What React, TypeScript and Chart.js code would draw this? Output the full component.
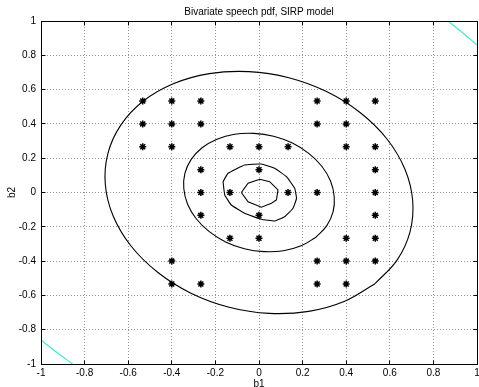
import React, { useEffect, useRef } from 'react';
import { Chart, registerables } from 'chart.js';
Chart.register(...registerables);

const TITLE = 'Bivariate speech pdf, SIRP model';
const X_LABEL = 'b1';
const Y_LABEL = 'b2';
const tickValues = [-1, -0.8, -0.6, -0.4, -0.2, 0, 0.2, 0.4, 0.6, 0.8, 1];
const tickLabels = ['-1', '-0.8', '-0.6', '-0.4', '-0.2', '0', '0.2', '0.4', '0.6', '0.8', '1'];

// sample points (asterisks)
const starX = [
  -0.5333, -0.4, -0.2667, 0.2667, 0.4, 0.5333,
  -0.5333, -0.4, -0.2667, 0.2667, 0.4,
  -0.5333, -0.4, -0.1333, 0, 0.1333, 0.4, 0.5333,
  -0.2667, 0, 0.5333,
  -0.2667, -0.1333, 0.1333, 0.2667, 0.5333,
  -0.2667, 0, 0.5333,
  -0.1333, 0, 0.4, 0.5333,
  -0.4, 0.2667, 0.4, 0.5333,
  -0.4, -0.2667, 0.2667, 0.4,
];
const starY = [
  0.5333, 0.5333, 0.5333, 0.5333, 0.5333, 0.5333,
  0.4, 0.4, 0.4, 0.4, 0.4,
  0.2667, 0.2667, 0.2667, 0.2667, 0.2667, 0.2667, 0.2667,
  0.1333, 0.1333, 0.1333,
  0, 0, 0, 0, 0,
  -0.1333, -0.1333, -0.1333,
  -0.2667, -0.2667, -0.2667, -0.2667,
  -0.4, -0.4, -0.4, -0.4,
  -0.5333, -0.5333, -0.5333, -0.5333,
];

// contour lines
const outerX = [0.532, 0.634, 0.693, 0.705, 0.669, 0.587, 0.465, 0.312, 0.137, -0.047, -0.228, -0.393, -0.532, -0.634, -0.693, -0.705, -0.669, -0.587, -0.465, -0.312, -0.137, 0.047, 0.228, 0.393, 0.532];
const outerY = [-0.532, -0.393, -0.228, -0.047, 0.137, 0.312, 0.465, 0.587, 0.669, 0.705, 0.693, 0.634, 0.532, 0.393, 0.228, 0.047, -0.137, -0.312, -0.465, -0.587, -0.669, -0.705, -0.693, -0.634, -0.532];

const midX = [0.261, 0.311, 0.340, 0.345, 0.328, 0.288, 0.228, 0.153, 0.067, -0.023, -0.112, -0.193, -0.261, -0.311, -0.340, -0.345, -0.328, -0.288, -0.228, -0.153, -0.067, 0.023, 0.112, 0.193, 0.261];
const midY = [-0.261, -0.193, -0.112, -0.023, 0.067, 0.153, 0.228, 0.288, 0.328, 0.345, 0.340, 0.311, 0.261, 0.193, 0.112, 0.023, -0.067, -0.153, -0.228, -0.288, -0.328, -0.345, -0.340, -0.311, -0.261];

const innerX = [-0.165, -0.142, -0.066, 0.011, 0.072, 0.126, 0.164, 0.172, 0.156, 0.118, 0.072, 0.011, -0.066, -0.127, -0.157, -0.165];
const innerY = [0.063, 0.112, 0.160, 0.166, 0.141, 0.092, 0.024, -0.034, -0.092, -0.141, -0.166, -0.156, -0.121, -0.073, -0.015, 0.063];

const coreX = [-0.081, -0.050, 0.003, 0.049, 0.087, 0.080, 0.057, 0.011, -0.050, -0.081];
const coreY = [0.000, 0.054, 0.077, 0.063, 0.015, -0.044, -0.063, -0.086, -0.054, 0.000];

const cornerAX = [-1, -0.93, -0.855];
const cornerAY = [-0.86, -0.93, -1];
const cornerBX = [0.867, 0.933, 1];
const cornerBY = [1, 0.933, 0.86];

const zip = (xs: number[], ys: number[]) => xs.map((x, i) => ({ x, y: ys[i] }));

const FONT = 'Liberation Sans, Arial, Helvetica, sans-serif';

const framePlugin = {
  id: 'frame',
  afterDatasetsDraw(chart: any) {
    const { ctx, chartArea, scales } = chart;
    const { left, right, top, bottom } = chartArea;
    const al = (v: number) => Math.floor(v) + 0.5;
    ctx.save();
    ctx.strokeStyle = '#000';
    ctx.lineWidth = 1;
    ctx.setLineDash([]);
    ctx.beginPath();
    const L = al(left), R = al(right), T = al(top), B = al(bottom);
    ctx.rect(L, T, R - L, B - T);
    const tl = 4;
    tickValues.forEach((v) => {
      const px = al(scales.x.getPixelForValue(v));
      ctx.moveTo(px, B); ctx.lineTo(px, B - tl);
      ctx.moveTo(px, T); ctx.lineTo(px, T + tl);
      const py = al(scales.y.getPixelForValue(v));
      ctx.moveTo(L, py); ctx.lineTo(L + tl, py);
      ctx.moveTo(R, py); ctx.lineTo(R - tl, py);
    });
    ctx.stroke();
    ctx.restore();
  },
};

export default function App() {
  const ref = useRef<HTMLCanvasElement | null>(null);
  useEffect(() => {
    if (!ref.current) return;
    Chart.defaults.font.family = FONT;
    const line = (data: any, color: string, width: number, tension: number) => ({
      type: 'scatter' as const,
      data,
      showLine: true,
      borderColor: color,
      backgroundColor: color,
      borderWidth: width,
      pointRadius: 0,
      tension,
    });
    const scaleCommon = (title: string, isX: boolean) => ({
      type: 'linear' as const,
      min: -1,
      max: 1,
      grid: { color: 'rgba(0,0,0,0.42)', drawTicks: false, lineWidth: 1 },
      border: { display: false, dash: [1, 2] },
      ticks: {
        padding: isX ? 3 : 5,
        color: '#000',
        font: { size: 10, family: FONT },
        autoSkip: false,
        maxRotation: 0,
        callback: (_v: any, i: number) => tickLabels[i],
      },
      title: {
        display: true,
        text: title,
        color: '#000',
        font: { size: 10, family: FONT },
        padding: isX ? { top: 0, bottom: -3 } : { top: 6.7, bottom: 0 },
      },
      afterBuildTicks: (s: any) => {
        s.ticks = tickValues.map((v) => ({ value: v }));
      },
      afterFit: (s: any) => {
        if (isX) s.height = 23;
        else s.width = 41;
        s.paddingLeft = 0;
        s.paddingRight = 0;
        s.paddingTop = 0;
        s.paddingBottom = 0;
      },
    });
    const chart = new Chart(ref.current, {
      type: 'scatter',
      data: {
        datasets: [
          line(zip(outerX, outerY), '#000', 1.1, 0.4),
          line(zip(midX, midY), '#000', 1.1, 0.4),
          line(zip(innerX, innerY), '#000', 1.1, 0.1),
          line(zip(coreX, coreY), '#000', 1.1, 0),
          line(zip(cornerAX, cornerAY), '#45e3cf', 1.2, 0.4),
          line(zip(cornerBX, cornerBY), '#45e3cf', 1.2, 0.4),
          {
            type: 'scatter',
            data: zip(starX, starY),
            pointStyle: 'star',
            pointRadius: 3.5,
            borderColor: '#000',
            backgroundColor: '#000',
            borderWidth: 1.5,
            showLine: false,
          } as any,
        ],
      },
      options: {
        animation: false,
        responsive: false,
        devicePixelRatio: 1,
        layout: { autoPadding: false, padding: { left: 0, right: 2, top: 0, bottom: 0 } },
        plugins: {
          legend: { display: false },
          tooltip: { enabled: false },
          title: {
            display: true,
            text: TITLE,
            fullSize: false,
            color: '#000',
            font: { size: 10, family: FONT, weight: 'normal' },
            padding: { top: 6, bottom: 3 },
          },
        },
        scales: {
          x: { ...scaleCommon(X_LABEL, true), position: 'bottom' } as any,
          y: { ...scaleCommon(Y_LABEL, false), position: 'left' } as any,
        },
      },
      plugins: [framePlugin],
    });
    return () => chart.destroy();
  }, []);
  return (
    <div style={{ position: 'fixed', left: 0, top: 0, width: 479, height: 387, background: '#fff' }}>
      <canvas ref={ref} width={479} height={387} style={{ display: 'block' }} />
    </div>
  );
}
